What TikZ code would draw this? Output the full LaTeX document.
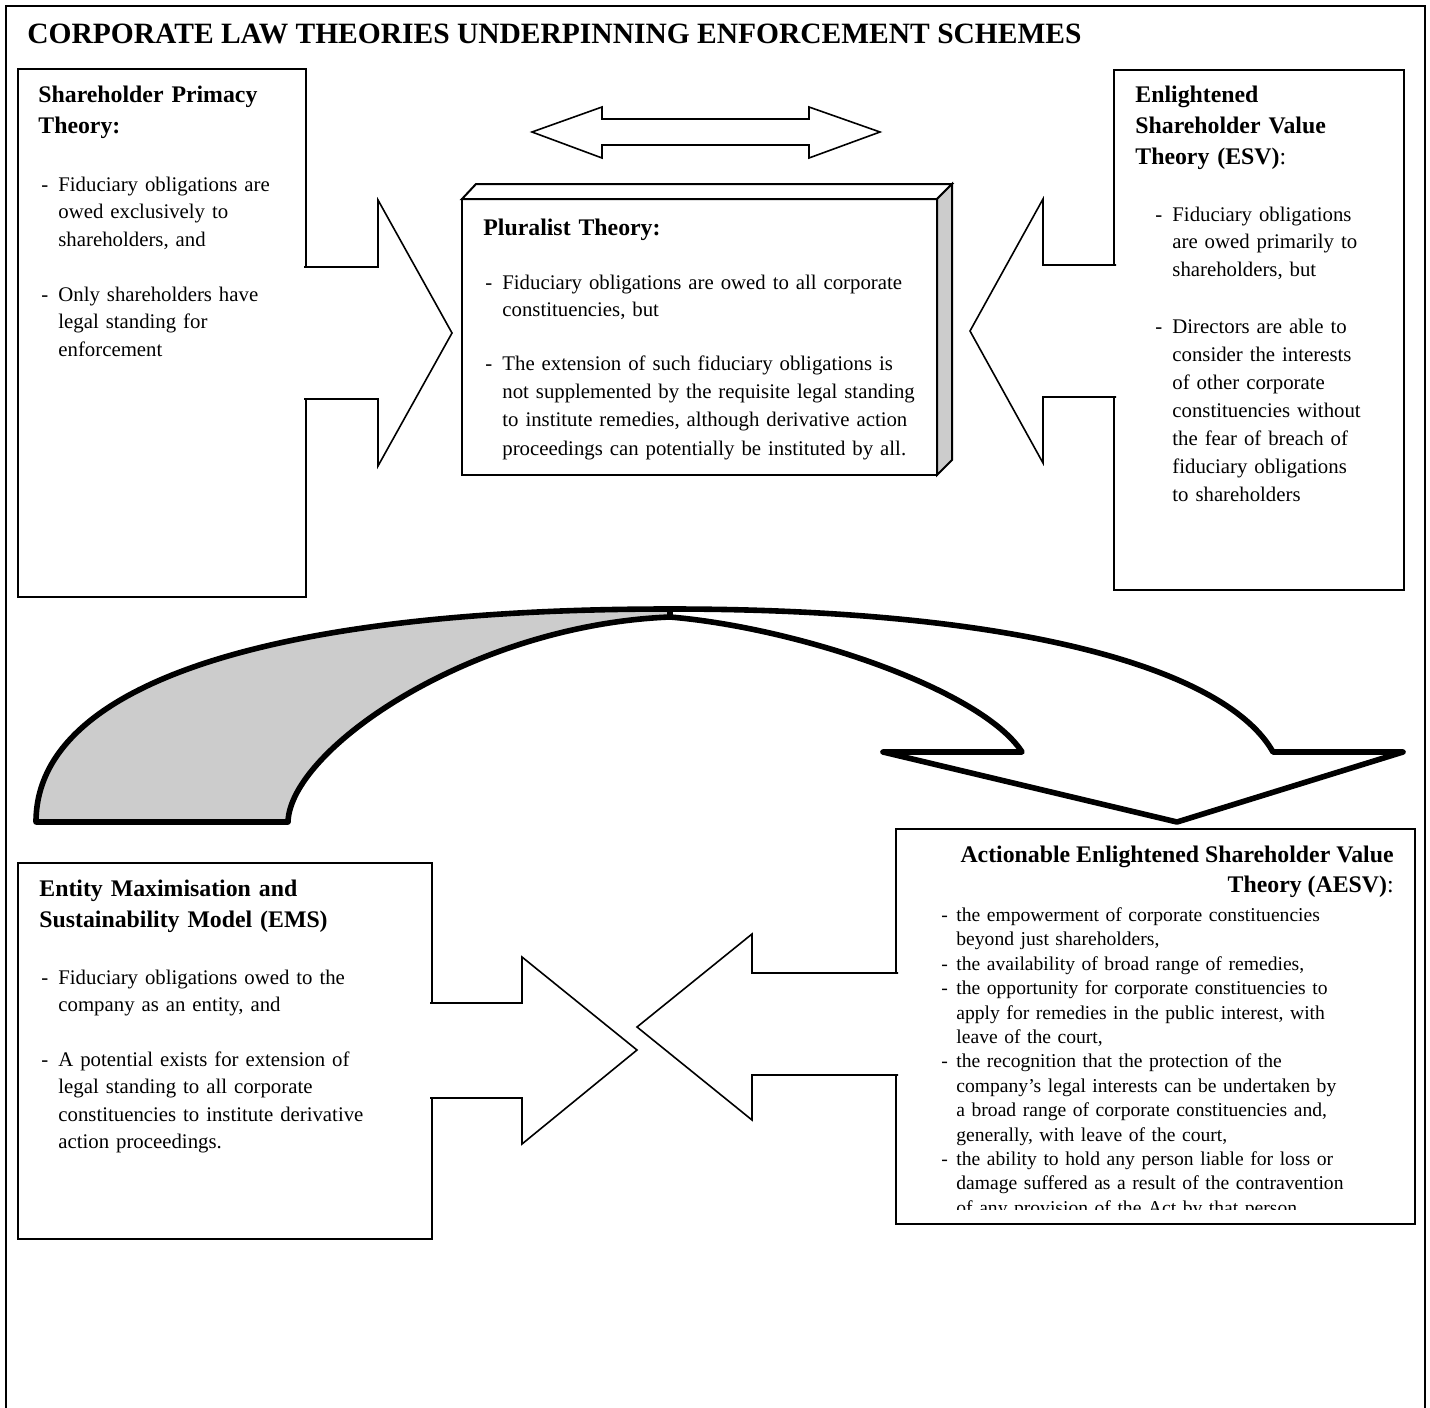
\documentclass[tikz,border=0pt]{standalone}
\usepackage{fontspec}
\setmainfont{Liberation Serif}
\definecolor{ribbongray}{gray}{0.8}
\newlength\dashw
\setlength\dashw{8.5pt}
\newcommand\fl{\rule{0pt}{10pt}}
\newcommand\dsh{\makebox[\dashw][l]{-}}
\newcommand\nxl{\\\hspace*{\dashw}}
\begin{document}
\begin{tikzpicture}[x=0.5pt, y=-0.5pt,
  frameline/.style={line width=1pt},
  boxline/.style={draw, line width=1pt},
  barrow/.style={draw, fill=white, line width=0.8pt, line join=miter},
  ribbon/.style={draw, line width=2.8pt, line join=round},
  bodytext/.style={anchor=north west, inner sep=0pt, text width=#1, align=left, font=\fontsize{10.4}{13.75}\selectfont},
  headtext/.style={anchor=north west, inner sep=0pt, text width=#1, align=left, font=\bfseries\fontsize{11.9}{15.5}\selectfont},
  headline/.style={inner sep=0pt, font=\bfseries\fontsize{11.9}{15.5}\selectfont},
]
\useasboundingbox (0,0) rectangle (1430,1408);
\fill[white] (0,0) rectangle (1430,1408);
% outer frame
\draw[frameline] (6,1425) -- (6,6) -- (1425,6) -- (1425,1425);
\node[anchor=base west, inner sep=0pt, font=\bfseries\fontsize{14.75}{17}\selectfont] (title) at (27,43) {CORPORATE LAW THEORIES UNDERPINNING ENFORCEMENT SCHEMES};

% ---------- top row boxes ----------
\draw[boxline] (18,69) rectangle (306,597);
\draw[boxline] (1114,70) rectangle (1404,590);
% block arrows attached to boxes
\filldraw[barrow] (304,267) -- (378,267) -- (378,200) -- (452,333) -- (378,466) -- (378,399) -- (304,399);
\filldraw[barrow] (1116,265) -- (1043,265) -- (1043,199) -- (970,331) -- (1043,463) -- (1043,397) -- (1116,397);
% double arrow
\filldraw[barrow] (532,132) -- (602,107) -- (602,119) -- (809,119) -- (809,107) -- (880,132) -- (809,158) -- (809,145) -- (602,145) -- (602,158) -- cycle;
% pluralist 3D box
\filldraw[boxline, fill=white] (462,199) -- (476,184) -- (952,184) -- (937,199) -- cycle;
\filldraw[boxline, fill=ribbongray] (937,199) -- (952,184) -- (952,460) -- (937,475) -- cycle;
\draw[boxline] (462,199) rectangle (937,475);

% ---------- texts top row ----------
\node[headtext=150pt] (sphead) at (38,82) {\fl Shareholder Primacy\\Theory:};
\node[bodytext=150pt] (spa) at (41,171) {\fl\dsh Fiduciary obligations are\nxl owed exclusively to\nxl shareholders, and};
\node[bodytext=150pt] (spb) at (41,281) {\fl\dsh Only shareholders have\nxl legal standing for\nxl enforcement};

\node[headtext=200pt] (plhead) at (483,215) {\fl Pluralist Theory:};
\node[bodytext=260pt] (pla) at (485,269) {\fl\dsh Fiduciary obligations are owed to all corporate\nxl constituencies, but};
\node[bodytext=260pt, font=\fontsize{10.4}{14.1}\selectfont] (plb) at (485,350) {\fl\dsh The extension of such fiduciary obligations is\nxl not supplemented by the requisite legal standing\nxl to institute remedies, although derivative action\nxl proceedings can potentially be instituted by all.};

\node[headtext=150pt] (esvhead) at (1135,82) {\fl Enlightened\\Shareholder Value\\Theory (ESV){\mdseries :}};
\node[bodytext=150pt] (esva) at (1155,201) {\fl\dsh Fiduciary obligations\nxl are owed primarily to\nxl shareholders, but};
\node[bodytext=150pt, font=\fontsize{10.4}{14}\selectfont] (esvb) at (1155,313) {\fl\dsh Directors are able to\nxl consider the interests\nxl of other corporate\nxl constituencies without\nxl the fear of breach of\nxl fiduciary obligations\nxl to shareholders};

% ---------- curved arrow ----------
\filldraw[ribbon, fill=ribbongray] (36,822) .. controls (36,684) and (270,609) .. (670,609) -- (670,617) .. controls (470,625) and (290,750) .. (288,822) -- cycle;
\filldraw[ribbon, fill=white] (670,609) .. controls (1030,609) and (1228,672) .. (1273,752) -- (1403,752) -- (1177,822) -- (883,752) -- (1022,752) .. controls (982,690) and (800,628) .. (670,617) -- cycle;

% ---------- bottom row ----------
\draw[boxline] (18,863) rectangle (432,1239);
\draw[boxline] (896,829) rectangle (1415,1224);
\filldraw[barrow] (430,1003) -- (522,1003) -- (522,957) -- (637,1050) -- (522,1144) -- (522,1098) -- (430,1098);
\filldraw[barrow] (898,973) -- (752,973) -- (752,934) -- (637,1027) -- (752,1120) -- (752,1075) -- (898,1075);

\node[headtext=250pt] (emshead) at (39,876) {\fl Entity Maximisation and\\Sustainability Model (EMS)};
\node[bodytext=200pt] (emsa) at (41,964) {\fl\dsh Fiduciary obligations owed to the\nxl company as an entity, and};
\node[bodytext=200pt] (emsb) at (41,1046) {\fl\dsh A potential exists for extension of\nxl legal standing to all corporate\nxl constituencies to institute derivative\nxl action proceedings.};

\node[headline, anchor=base east] (aesvh1) at (1394,862) {Actionable Enlightened Shareholder Value};
\node[headline, anchor=base east] (aesvh2) at (1394,892) {Theory (AESV){\mdseries :}};
\begin{scope}
\clip (896,829) rectangle (1415,1209);
\node[bodytext=260pt, font=\fontsize{9.8}{12.2}\selectfont] (aesvb) at (941,901) {\setlength\dashw{7.5pt}\fl\dsh the empowerment of corporate constituencies\nxl beyond just shareholders,\\\dsh the availability of broad range of remedies,\\\dsh the opportunity for corporate constituencies to\nxl apply for remedies in the public interest, with\nxl leave of the court,\\\dsh the recognition that the protection of the\nxl company’s legal interests can be undertaken by\nxl a broad range of corporate constituencies and,\nxl generally, with leave of the court,\\\dsh the ability to hold any person liable for loss or\nxl damage suffered as a result of the contravention\nxl of any provision of the Act by that person};
\end{scope}
\end{tikzpicture}
\end{document}
